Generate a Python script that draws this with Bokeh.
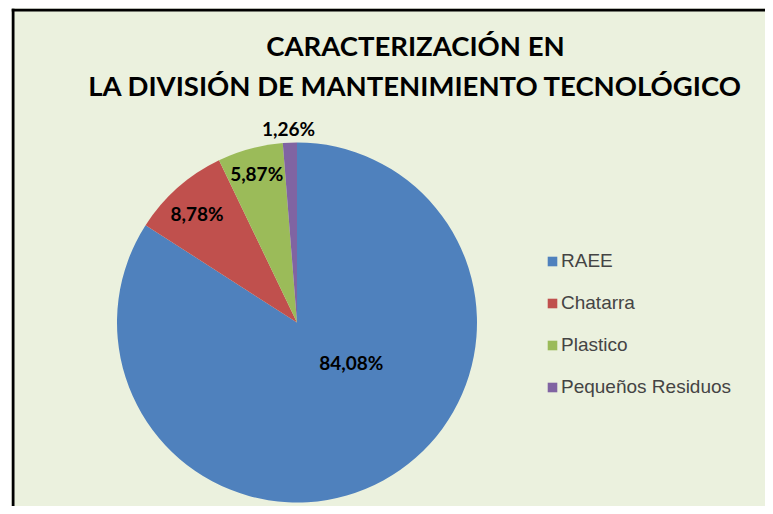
import math
from bokeh.plotting import figure
from bokeh.models import Range1d, Span, Legend, LegendItem, ColumnDataSource
from bokeh.core.properties import value
from bokeh.embed import file_html
from bokeh.resources import INLINE

# ---- data ----
TITLE_LINES = ["CARACTERIZACIÓN EN", "LA DIVISIÓN DE MANTENIMIENTO TECNOLÓGICO"]
CATEGORIES = ["RAEE", "Chatarra", "Plastico", "Pequeños Residuos"]
PERCENTS = [84.08, 8.78, 5.87, 1.26]
COLORS = ["#4F81BD", "#C0504D", "#9BBB59", "#8064A2"]

# ---- layout / style (canvas pixel coordinates) ----
BG = "#EBF1DE"
R = 180.0
CX, CY = 296.5, 322.0          # pie centre
FRAME_L, FRAME_T = 11, 8       # chart-area top-left
FIG_W, FIG_H = 765, 506
LABEL_R = [0.375, 0.82, 0.86, 1.08]     # label distance as fraction of radius
LABEL_SHIFT_DEG = [25.0, 1.2, 0.0, 0.2]  # angular nudge of label
TITLE_Y_PX = [45, 85]
TITLE_X_PX = 415

def px_x(x):
    return x - CX

def px_y(y):
    return CY - y

total = sum(PERCENTS)
starts, ends, mids = [], [], []
cum = 0.0
for v in PERCENTS:
    a0 = math.pi / 2 - 2 * math.pi * cum / total
    cum += v
    a1 = math.pi / 2 - 2 * math.pi * cum / total
    starts.append(a0)
    ends.append(a1)
    mids.append((a0 + a1) / 2)

src = ColumnDataSource(dict(cat=CATEGORIES, pct=PERCENTS, color=COLORS,
                            start=starts, end=ends))

p = figure(width=FIG_W, height=FIG_H, output_backend="svg", toolbar_location=None,
           x_range=Range1d(px_x(FRAME_L), px_x(FIG_W)),
           y_range=Range1d(px_y(FIG_H), px_y(FRAME_T)),
           x_axis_location=None, y_axis_location=None, tools="")
p.min_border = 0
p.min_border_left = FRAME_L
p.min_border_top = FRAME_T
p.grid.visible = False
p.outline_line_color = None
p.background_fill_color = BG
p.border_fill_color = "white"

r = p.wedge(x=0, y=0, radius=R, start_angle="start", end_angle="end",
            direction="clock", fill_color="color", line_color=None, source=src)

# data labels
lx, ly, lt = [], [], []
for i, v in enumerate(PERCENTS):
    a = mids[i] + math.radians(LABEL_SHIFT_DEG[i])
    lx.append(R * LABEL_R[i] * math.cos(a))
    ly.append(R * LABEL_R[i] * math.sin(a))
    lt.append(f"{v:.2f}".replace(".", ",") + "%")
p.text(x=lx, y=ly, text=lt, text_align="center", text_baseline="middle",
       text_font=value("Lato"), text_font_style="bold", text_font_size="19px",
       text_color="black")

# title
p.text(x=[px_x(TITLE_X_PX)] * 2, y=[px_y(y) for y in TITLE_Y_PX], text=TITLE_LINES,
       text_align="center", text_baseline="middle", text_font=value("Lato"),
       text_font_style="bold", text_font_size="27.5px", text_color="black")

# chart-area border (left and top edges visible in the window)
p.add_layout(Span(location=px_x(FRAME_L) + 1.5, dimension="height",
                  line_color="black", line_width=3))
p.add_layout(Span(location=px_y(FRAME_T) - 1.5, dimension="width",
                  line_color="black", line_width=3))

legend = Legend(items=[LegendItem(label=c, renderers=[r], index=i)
                       for i, c in enumerate(CATEGORIES)],
                location=(535, 108), padding=0, margin=0, spacing=20,
                glyph_width=12, glyph_height=12, label_height=20,
                label_standoff=3, label_text_font="Liberation Sans",
                label_text_font_size="19px", background_fill_alpha=0,
                border_line_color=None)
p.add_layout(legend)

open("out.html", "w").write(file_html(p, INLINE))
